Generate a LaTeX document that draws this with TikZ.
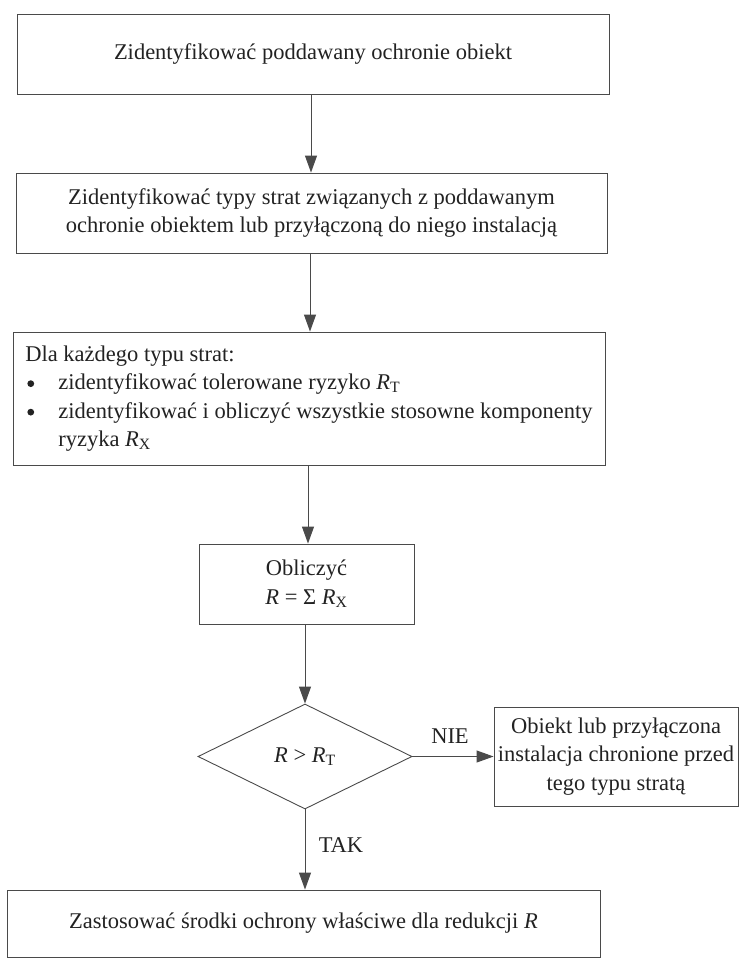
\documentclass[tikz,border=0pt]{standalone}
\usepackage{fontspec}
\setmainfont{Liberation Serif}
\usetikzlibrary{shapes.geometric,arrows.meta}
\definecolor{linec}{HTML}{4A4A4A}
\definecolor{textc}{HTML}{222222}
\newcommand{\RT}{\textit{R}\textsubscript{T}}
\newcommand{\RX}{\textit{R}\textsubscript{X}}
\newsavebox{\bulbox}
\sbox{\bulbox}{\tikz[x=1pt,y=1pt]\fill[textc] (0,0) circle (3.4pt);}
\newcommand{\bul}{\makebox[33pt][l]{\hspace*{2pt}\raisebox{0.25ex}{\usebox{\bulbox}}}}
\begin{document}
\begin{tikzpicture}[x=1pt,y=-1pt,
  every node/.style={text=textc, font=\fontsize{22.5}{28.5}\selectfont},
  boxnode/.style={draw=linec, line width=0.9pt, rectangle, inner sep=0pt, align=center},
  decnode/.style={draw=linec, line width=0.9pt, diamond, inner sep=0pt},
  arr/.style={draw=linec, line width=1pt, -{Triangle[length=17pt,width=12pt]}},
  lbl/.style={inner sep=0pt}]
\useasboundingbox (0,0) rectangle (740,964);
\node[boxnode, minimum width=592pt, minimum height=80pt] (b1) at (313,54)
  {Zidentyfikować poddawany ochronie obiekt};
\node[boxnode, minimum width=591pt, minimum height=80pt] (b2) at (311.5,213)
  {Zidentyfikować typy strat związanych z poddawanym\\ochronie obiektem lub przyłączoną do niego instalacją};
\node[boxnode, minimum width=592pt, minimum height=133pt, align=left] (b3) at (309,398.5)
  {Dla każdego typu strat:\\
   \bul zidentyfikować tolerowane ryzyko \RT\\
   \bul zidentyfikować i obliczyć wszystkie stosowne komponenty\\
   \hspace*{33pt}ryzyka \RX};
\node[boxnode, minimum width=215pt, minimum height=80pt] (b4) at (306.5,584)
  {Obliczyć\\\textit{R} = Σ \RX};
\node[decnode, minimum width=214pt, minimum height=105pt] (d) at (305,756.5)
  {\textit{R} > \RT};
\node[boxnode, minimum width=244pt, minimum height=99pt] (rb) at (616,756.5)
  {Obiekt lub przyłączona\\instalacja chronione przed\\tego typu stratą};
\node[boxnode, minimum width=593pt, minimum height=67pt] (b5) at (303.5,923.5)
  {Zastosować środki ochrony właściwe dla redukcji \textit{R}};
\coordinate (a1) at (311,0);
\draw[arr] (a1 |- b1.south) -- (a1 |- b2.north);
\coordinate (a2) at (310,0);
\draw[arr] (a2 |- b2.south) -- (a2 |- b3.north);
\coordinate (a3) at (308,0);
\draw[arr] (a3 |- b3.south) -- (a3 |- b4.north);
\draw[arr] (b4.south -| d.north) -- (d.north);
\draw[arr] (d.east) -- (rb.west |- d.east);
\draw[arr] (d.south) -- (d.south |- b5.north);
\node[lbl] (nie) at (450,736) {NIE};
\node[lbl] (tak) at (341,845) {TAK};
\end{tikzpicture}
\end{document}
